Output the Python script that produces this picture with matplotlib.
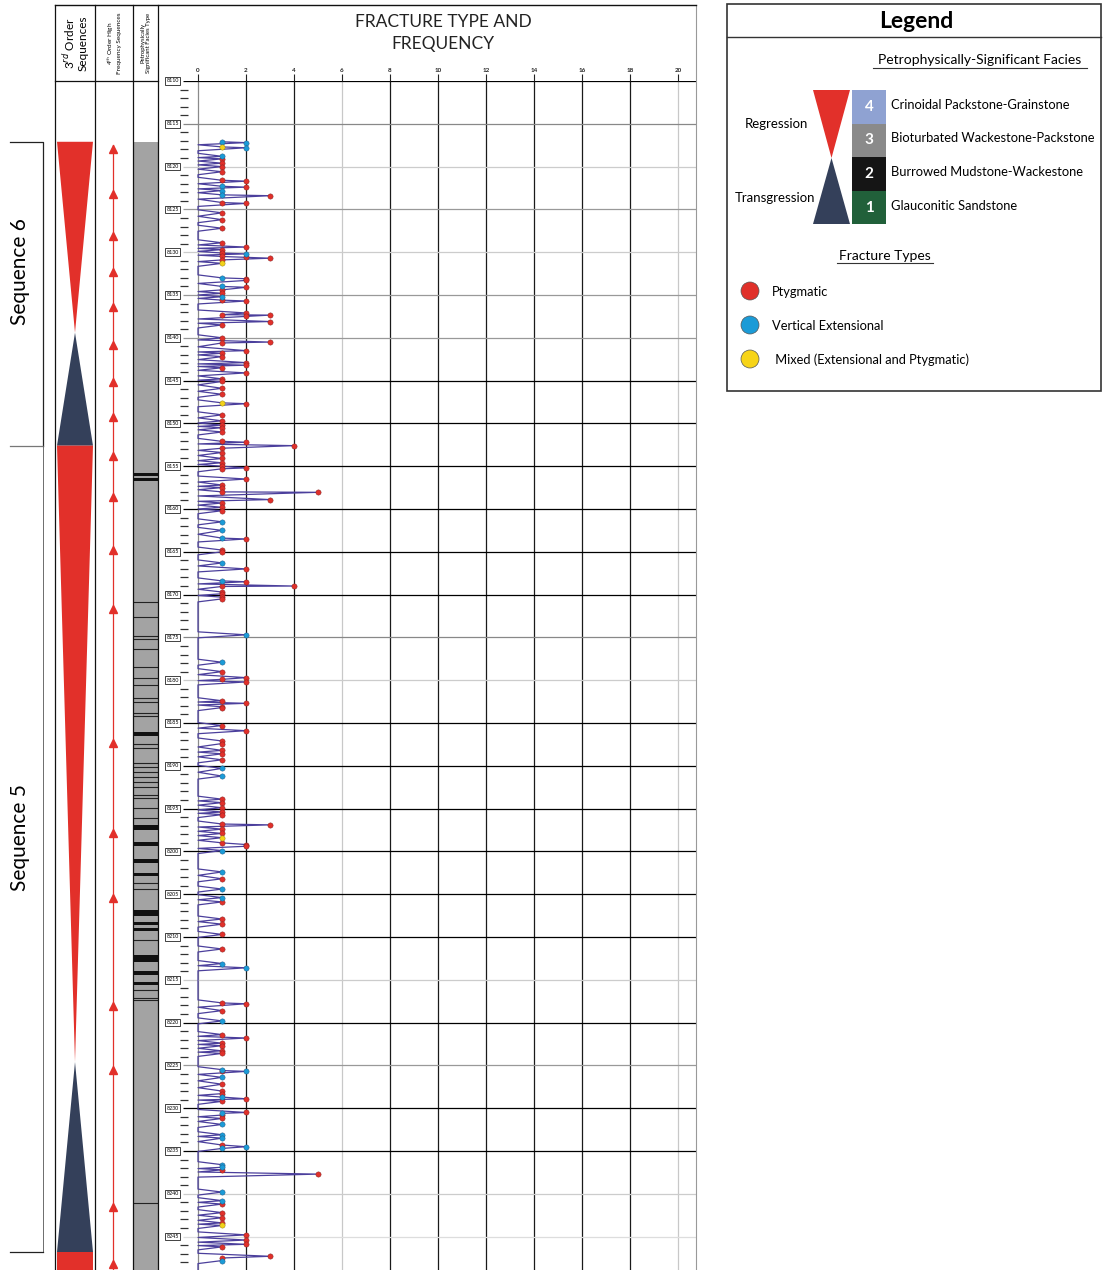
import numpy as np
import matplotlib
matplotlib.use("Agg")
import matplotlib.pyplot as plt
from matplotlib.patches import Polygon, Rectangle, Circle

plt.rcParams['font.family'] = ['Lato', 'DejaVu Sans']

# ---- data (depth in ft) ----
depth_top = 8110
depth_step = 5
n_labels = 28
depth_labels = [str(depth_top + depth_step * i) for i in range(n_labels)]

# ptygmatic fractures: depth and count
red_depth = [8119.1, 8119.6, 8120.0, 8120.6, 8121.6, 8121.7, 8122.4, 8123.4, 8124.2, 8124.3, 8125.4,
             8126.2, 8127.2, 8128.9, 8129.4, 8129.7, 8130.1, 8130.5, 8130.6, 8130.7, 8130.9, 8133.1,
             8133.3, 8134.1, 8134.4, 8134.8, 8135.6, 8135.7, 8137.1, 8137.3, 8137.35, 8137.5, 8138.1,
             8138.5, 8140.0, 8140.5, 8140.6, 8141.5, 8141.8, 8142.2, 8142.9, 8143.2, 8143.5, 8144.1,
             8144.8, 8145.1, 8145.9, 8146.6, 8147.7, 8149.0, 8149.7, 8150.2, 8150.5, 8151.0, 8152.1,
             8152.2, 8152.6, 8152.9, 8153.4, 8154.1, 8154.6, 8155.0, 8155.2, 8155.3, 8156.5, 8157.2,
             8157.5, 8158.0, 8158.05, 8158.9, 8159.3, 8159.8, 8160.2, 8163.5, 8164.8, 8165.0, 8167.0,
             8168.5, 8169.0, 8169.05, 8169.7, 8169.9, 8170.3, 8170.5, 8179.0, 8179.7, 8179.9, 8180.2,
             8182.4, 8182.7, 8183.1, 8183.2, 8185.3, 8185.9, 8187.1, 8187.4, 8188.2, 8188.6, 8189.3,
             8193.9, 8194.3, 8194.9, 8195.4, 8195.7, 8196.8, 8196.9, 8197.4, 8197.9, 8199.0, 8199.2,
             8199.4, 8203.2, 8205.9, 8207.9, 8208.5, 8209.7, 8211.4, 8217.7, 8217.8, 8218.6, 8221.4,
             8221.8, 8222.4, 8222.7, 8223.3, 8223.6, 8225.6, 8227.2, 8228.0, 8228.3, 8228.9, 8229.2,
             8230.5, 8230.8, 8231.2, 8234.3, 8237.2, 8237.7, 8241.2, 8242.2, 8242.8, 8243.4, 8244.8,
             8245.4, 8245.9, 8246.2, 8247.3, 8247.5]
red_count = [1, 1, 1, 1, 1, 2, 2, 3, 1, 2, 1,
             1, 1, 1, 2, 1, 1, 1, 2, 3, 1, 2,
             2, 2, 1, 1, 1, 2, 2, 1, 3, 2, 3,
             1, 1, 3, 1, 2, 1, 1, 2, 2, 1, 2,
             1, 1, 1, 1, 2, 1, 1, 1, 1, 1, 1,
             2, 4, 1, 1, 1, 1, 1, 2, 1, 2, 1,
             1, 1, 5, 3, 1, 1, 1, 2, 1, 1, 2,
             2, 4, 1, 1, 1, 1, 1, 1, 2, 1, 2,
             1, 2, 1, 1, 1, 2, 1, 1, 1, 1, 1,
             1, 1, 1, 1, 1, 1, 3, 1, 1, 1, 2,
             2, 1, 1, 1, 1, 1, 1, 1, 2, 1, 1,
             2, 1, 1, 1, 1, 1, 1, 1, 1, 2, 1,
             2, 1, 1, 1, 1, 5, 1, 1, 1, 1, 2,
             2, 2, 1, 3, 1]

# vertical extensional fractures
blue_depth = [8117.1, 8117.2, 8117.8, 8118.8, 8122.3, 8122.8, 8123.3, 8130.2, 8133.0, 8134.0, 8135.2,
              8161.5, 8162.5, 8163.4, 8166.3, 8168.4, 8174.7, 8177.9, 8190.3, 8191.2, 8199.9, 8202.4,
              8204.4, 8205.4, 8213.1, 8213.6, 8219.8, 8225.5, 8225.7, 8226.4, 8228.7, 8230.6, 8231.9,
              8233.1, 8233.5, 8234.5, 8234.7, 8236.6, 8236.9, 8239.8, 8240.8, 8247.8]
blue_count = [1, 2, 2, 1, 1, 1, 1, 2, 1, 1, 1,
              1, 1, 1, 1, 1, 2, 1, 1, 1, 1, 1,
              1, 1, 1, 2, 1, 1, 2, 1, 1, 1, 1,
              1, 1, 2, 1, 1, 1, 1, 1, 1]

# mixed (extensional and ptygmatic)
yellow_depth = [8117.7, 8131.3, 8147.6, 8198.4, 8243.7]
yellow_count = [1, 1, 1, 1, 1]

# 3rd order sequences: top, bottom, kind
seq_top = [8117.1, 8139.4, 8152.6, 8224.6, 8246.8]
seq_bottom = [8139.4, 8152.6, 8224.6, 8246.8, 8249.0]
seq_kind = ['reg', 'trans', 'reg', 'trans', 'reg']

# 4th order high-frequency sequence tops (arrowheads)
hf_tops = [8117.5, 8122.7, 8127.6, 8131.8, 8135.9, 8140.3, 8144.7, 8148.8, 8153.3, 8158.1,
           8164.3, 8171.2, 8186.8, 8197.4, 8204.9, 8217.6, 8225.0, 8241.1, 8247.7]

# facies: burrowed mudstone beds (top, bottom) within bioturbated wackestone background
mud_top = [8155.8, 8156.4, 8186.1, 8196.9, 8198.9, 8200.9, 8202.5, 8206.8, 8208.3, 8209.0,
           8212.1, 8214.0, 8215.3]
mud_bottom = [8156.1, 8156.7, 8186.5, 8197.5, 8199.4, 8201.4, 8202.9, 8207.5, 8208.6, 8209.3,
              8212.9, 8214.4, 8215.6]
bed_lines = [8170.9, 8172.6, 8174.8, 8175.2, 8176.4, 8178.5, 8179.7, 8180.6, 8182.1, 8182.5,
             8183.8, 8184.2, 8187.5, 8187.9, 8189.7, 8190.1, 8190.7, 8191.3, 8191.9, 8192.5,
             8193.4, 8193.8, 8194.9, 8196.1, 8203.7, 8204.4, 8210.3, 8216.2, 8217.1, 8217.4, 8241.1]

W, H = 1103, 1270
px_per_ft = 8.56
depth_bottom = depth_top + (H - 81) / px_per_ft

fig = plt.figure(figsize=(W / 100, H / 100), dpi=100)


def box(x0, y0, x1, y1):
    return [x0 / W, 1 - y1 / H, (x1 - x0) / W, (y1 - y0) / H]


RED = '#e2302a'
NAVY = '#34405a'
GREY = '#a3a3a3'

# ---- 3rd order column ----
ax_seq = fig.add_axes(box(55, 81, 95, H))
ax_seq.set_xlim(0, 1)
ax_seq.set_ylim(depth_bottom, depth_top)
ax_seq.axis('off')
for t, b, k in zip(seq_top, seq_bottom, seq_kind):
    if k == 'reg':
        col = RED
        if b > depth_bottom - 1:
            pts = [(0.05, t), (0.95, t), (0.95, b), (0.05, b)]
        else:
            pts = [(0.05, t), (0.95, t), (0.5, b)]
    else:
        col = NAVY
        pts = [(0.5, t), (0.95, b), (0.05, b)]
    ax_seq.add_patch(Polygon(pts, closed=True, color=col, lw=0))

# ---- 4th order column ----
ax_hf = fig.add_axes(box(95, 81, 133, H))
ax_hf.set_xlim(0, 1)
ax_hf.set_ylim(depth_bottom, depth_top)
ax_hf.axis('off')
ax_hf.plot([0.48, 0.48], [hf_tops[0], depth_bottom], color=RED, lw=0.9)
ax_hf.plot([0.48] * len(hf_tops), [d + 0.5 for d in hf_tops], ls='none', marker='^',
           ms=6, color=RED, mec=RED)

# ---- facies column ----
ax_fac = fig.add_axes(box(133, 81, 158, H))
ax_fac.set_xlim(0, 1)
ax_fac.set_ylim(depth_bottom, depth_top)
ax_fac.axis('off')
ax_fac.add_patch(Rectangle((0, seq_top[0]), 1, depth_bottom - seq_top[0], color=GREY, lw=0))
for t, b in zip(mud_top, mud_bottom):
    ax_fac.add_patch(Rectangle((0, t), 1, b - t, color='#111111', lw=0))
ax_fac.hlines(bed_lines, 0, 1, color='#222222', lw=0.8)

# ---- fracture plot ----
ax = fig.add_axes(box(158, 81, 696, H))
ax.set_xlim((158 - 198) / 24, (696 - 198) / 24)
ax.set_ylim(depth_bottom, depth_top)
for s in ax.spines.values():
    s.set_visible(False)
ax.set_yticks([])
ax.xaxis.tick_top()
ax.set_xticks(range(0, 21, 2))
ax.tick_params(axis='x', length=5, width=0.8, pad=1, labelsize=4.5, colors='#222222')
for lab in ax.get_xticklabels():
    lab.set_fontweight('bold')

vcols = ['#8a8a8a', '#1a1a1a', '#1a1a1a', '#c8c8c8', '#1a1a1a', '#1a1a1a', '#1a1a1a',
         '#1a1a1a', '#1a1a1a', '#1a1a1a', '#c8c8c8']
for xv, c in zip(range(0, 21, 2), vcols):
    ax.axvline(xv, color=c, lw=0.9, zorder=1)

hcols = ['k', '#888', '#ccc', '#999', '#ccc', '#999', '#999', 'k', 'k', 'k', 'k', 'k', 'k', '#888',
         '#ccc', 'k', 'k', 'k', 'k', 'k', 'k', '#ccc', 'k', '#999', 'k', 'k', '#ccc', '#ddd']
label_depths = [depth_top + depth_step * i for i in range(n_labels)]
for d, lab, c in zip(label_depths, depth_labels, hcols):
    ax.hlines(d, -0.62, 20.75, color=c, lw=0.9, zorder=1)
    ax.text(-1.05, d, lab, fontsize=3.8, ha='center', va='center', zorder=5,
            bbox=dict(boxstyle='square,pad=0.25', fc='white', ec='#222222', lw=0.6))
minor = [d for d in np.arange(depth_top, depth_bottom, 1.0) if round(d) % 5 != 0]
ax.hlines(minor, -0.75, -0.42, color='#333333', lw=0.9)

# trace line through all observations, returning to zero between separated ones
all_depth = np.array(red_depth + blue_depth + yellow_depth)
all_count = np.array(red_count + blue_count + yellow_count)
order = np.argsort(all_depth, kind='stable')
ld, lx = [], []
prev = None
for i in order:
    d = all_depth[i]
    if prev is not None:
        gap = d - prev
        if gap > 0.9:
            ld += [prev + 0.35, d - 0.35]
            lx += [0, 0]
        elif gap > 0.3:
            ld += [(prev + d) / 2]
            lx += [0]
    ld.append(d)
    lx.append(all_count[i])
    prev = d
ld += [prev + 0.35, depth_bottom]
lx += [0, 0]
ax.plot(lx, ld, color='#4b3f9c', lw=0.9, zorder=3)

ax.plot(red_count, red_depth, 'o', ms=3.8, color='#e0302a', mec='#7a2020', mew=0.3, ls='none',
        zorder=4)
ax.plot(blue_count, blue_depth, 'o', ms=3.8, color='#1b9bd7', mec='#20507a', mew=0.3, ls='none',
        zorder=4)
ax.plot(yellow_count, yellow_depth, 'o', ms=3.8, color='#f3d21a', mec='#8a7a10', mew=0.3,
        ls='none', zorder=4)

# ---- overlay: frames, headers, labels, legend ----
ov = fig.add_axes([0, 0, 1, 1])
ov.set_xlim(0, W)
ov.set_ylim(H, 0)
ov.axis('off')
ov.patch.set_alpha(0)

for xv in [55, 95, 133, 158]:
    ov.plot([xv, xv], [5, H], color='#111111', lw=0.9)
ov.plot([696, 696], [5, H], color='#999999', lw=0.8)
ov.plot([55, 696], [5, 5], color='#111111', lw=1.0)
ov.plot([55, 158], [81, 81], color='#111111', lw=0.9)

ov.text(75, 43, '3$^{rd}$ Order\nSequences', rotation=90, ha='center', va='center', fontsize=8.5,
        linespacing=1.0)
ov.text(114, 43, '4$^{th}$ Order High\nFrequency Sequences', rotation=90, ha='center', va='center',
        fontsize=4.6, linespacing=1.1)
ov.text(146, 43, 'Petrophysically\nSignificant Facies Type', rotation=90, ha='center', va='center',
        fontsize=4.3, linespacing=1.1)
ov.text(443, 33, 'FRACTURE TYPE AND\nFREQUENCY', ha='center', va='center', fontsize=12.5,
        linespacing=1.5, color='#222222')

# sequence brackets
ov.plot([10, 43, 43], [142, 142, 446], color='#222222', lw=0.9)
ov.plot([10, 43], [446, 446], color='#777777', lw=0.9)
ov.plot([43, 43], [446, 1252], color='#555555', lw=0.6)
ov.plot([10, 43], [1252, 1252], color='#222222', lw=0.9)
ov.text(20, 272, 'Sequence 6', rotation=90, ha='center', va='center', fontsize=15)
ov.text(20, 838, 'Sequence 5', rotation=90, ha='center', va='center', fontsize=15)

# legend
ov.add_patch(Rectangle((727, 4), 374, 387, fill=False, ec='#333333', lw=1.2))
ov.plot([727, 1101], [37, 37], color='#333333', lw=1.0)
ov.text(916, 21, 'Legend', ha='center', va='center', fontsize=16.5, fontweight='bold')
ov.text(980, 60, 'Petrophysically-Significant Facies', ha='center', va='center', fontsize=10)
ov.plot([873, 1087], [68, 68], color='#333333', lw=0.8)
ov.add_patch(Polygon([(813, 90), (850, 90), (831.5, 158)], color=RED, lw=0))
ov.add_patch(Polygon([(831.5, 158), (850, 224), (813, 224)], color=NAVY, lw=0))
ov.text(776, 124, 'Regression', ha='center', va='center', fontsize=9.5)
ov.text(775, 198, 'Transgression', ha='center', va='center', fontsize=9.5)
fac_names = ['Crinoidal Packstone-Grainstone', 'Bioturbated Wackestone-Packstone',
             'Burrowed Mudstone-Wackestone', 'Glauconitic Sandstone']
fac_cols = ['#8fa2d2', '#8a8a8a', '#151515', '#21603a']
for i, (name, c) in enumerate(zip(fac_names, fac_cols)):
    y0 = 90 + i * 33.5
    ov.add_patch(Rectangle((852, y0), 34, 33.5, color=c, lw=0))
    ov.text(869, y0 + 17, str(4 - i), ha='center', va='center', fontsize=11, fontweight='bold',
            color='white')
    ov.text(891, y0 + 15, name, ha='left', va='center', fontsize=9.3)

ov.text(885, 256, 'Fracture Types', ha='center', va='center', fontsize=10)
ov.plot([837, 933], [263, 263], color='#333333', lw=0.8)
ft_names = ['Ptygmatic', 'Vertical Extensional', ' Mixed (Extensional and Ptygmatic)']
ft_cols = ['#e0302a', '#1b9bd7', '#f7d417']
for i, (name, c) in enumerate(zip(ft_names, ft_cols)):
    yc = 291 + i * 34
    ov.add_patch(Circle((750, yc), 9, fc=c, ec='#555555', lw=0.5))
    ov.text(772, yc + 1, name, ha='left', va='center', fontsize=9.3)

fig.savefig('out.png', dpi=100)
